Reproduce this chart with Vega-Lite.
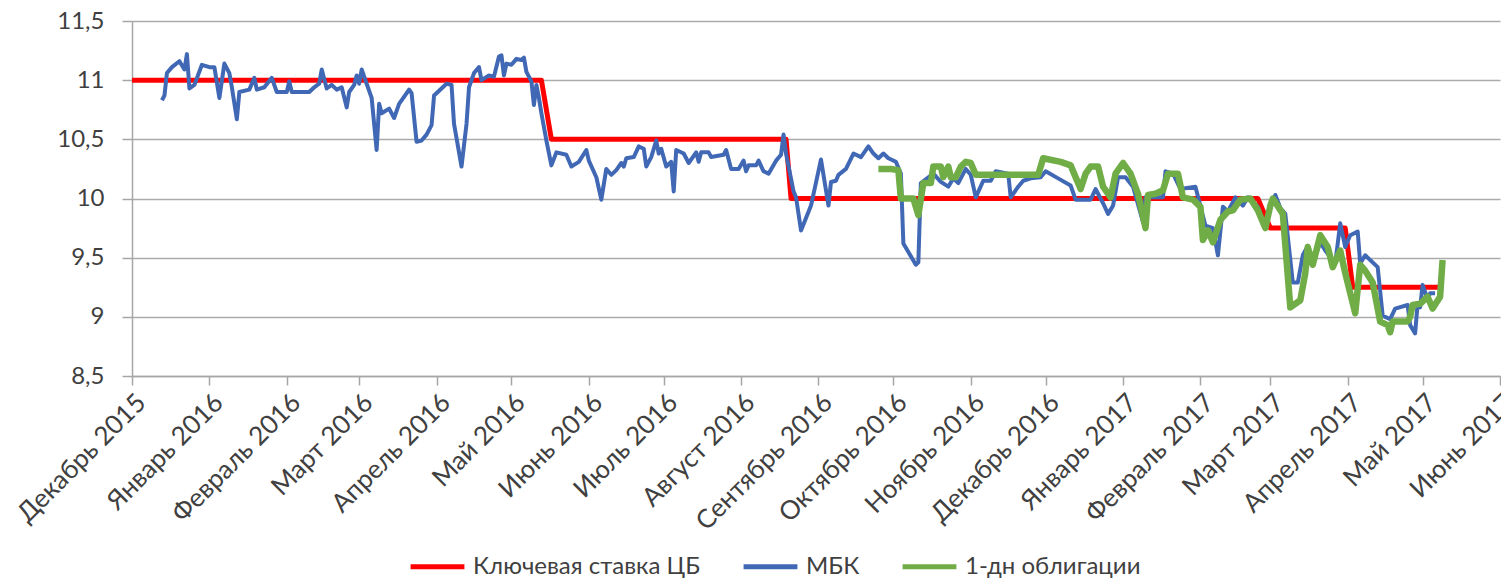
{
"$schema": "https://vega.github.io/schema/vega-lite/v6.json",
"width": 1368, "height": 355,
"autosize": {"type": "none"},
"padding": {"left": 132, "top": 21, "right": 1, "bottom": 203},
"background": "white",
"config": {"font": "Lato", "view": {"stroke": null}},
"datasets": {
"key": [
{"date":"2015-12-01","value":11},{"date":"2016-05-13","value":11},{"date":"2016-05-17","value":10.5},{"date":"2016-08-19","value":10.5},{"date":"2016-08-21","value":10},{"date":"2017-02-24","value":10},{"date":"2017-03-01","value":9.75},{"date":"2017-03-31","value":9.75},{"date":"2017-04-03","value":9.25},{"date":"2017-05-09","value":9.25}
],
"mbk": [
{"date":"2015-12-13","value":10.83},{"date":"2015-12-14","value":10.87},{"date":"2015-12-15","value":11.06},{"date":"2015-12-17","value":11.11},{"date":"2015-12-20","value":11.16},{"date":"2015-12-22","value":11.09},{"date":"2015-12-23","value":11.22},{"date":"2015-12-24","value":10.93},{"date":"2015-12-26","value":10.96},{"date":"2015-12-29","value":11.13},
{"date":"2016-01-01","value":11.11},{"date":"2016-01-03","value":11.11},{"date":"2016-01-05","value":10.85},{"date":"2016-01-07","value":11.14},{"date":"2016-01-09","value":11.06},{"date":"2016-01-10","value":10.94},{"date":"2016-01-12","value":10.67},{"date":"2016-01-13","value":10.9},{"date":"2016-01-17","value":10.92},{"date":"2016-01-19","value":11.02},{"date":"2016-01-20","value":10.92},{"date":"2016-01-23","value":10.94},{"date":"2016-01-26","value":11.02},{"date":"2016-01-28","value":10.9},
{"date":"2016-02-01","value":10.9},{"date":"2016-02-02","value":10.99},{"date":"2016-02-03","value":10.9},{"date":"2016-02-10","value":10.9},{"date":"2016-02-12","value":10.94},{"date":"2016-02-14","value":10.97},{"date":"2016-02-15","value":11.09},{"date":"2016-02-17","value":10.93},{"date":"2016-02-19","value":10.96},{"date":"2016-02-21","value":10.92},{"date":"2016-02-23","value":10.94},{"date":"2016-02-25","value":10.77},{"date":"2016-02-26","value":10.9},{"date":"2016-02-28","value":10.96},{"date":"2016-02-29","value":11.04},
{"date":"2016-03-01","value":10.97},{"date":"2016-03-02","value":11.09},{"date":"2016-03-04","value":10.97},{"date":"2016-03-06","value":10.85},{"date":"2016-03-08","value":10.41},{"date":"2016-03-09","value":10.8},{"date":"2016-03-10","value":10.72},{"date":"2016-03-13","value":10.76},{"date":"2016-03-15","value":10.68},{"date":"2016-03-17","value":10.8},{"date":"2016-03-21","value":10.92},{"date":"2016-03-22","value":10.89},{"date":"2016-03-24","value":10.48},{"date":"2016-03-26","value":10.49},{"date":"2016-03-28","value":10.54},{"date":"2016-03-30","value":10.62},{"date":"2016-03-31","value":10.87},
{"date":"2016-04-05","value":10.97},{"date":"2016-04-07","value":10.96},{"date":"2016-04-08","value":10.63},{"date":"2016-04-11","value":10.27},{"date":"2016-04-13","value":10.63},{"date":"2016-04-14","value":10.94},{"date":"2016-04-16","value":11.06},{"date":"2016-04-18","value":11.11},{"date":"2016-04-19","value":11.0},{"date":"2016-04-22","value":11.04},{"date":"2016-04-24","value":11.03},{"date":"2016-04-26","value":11.2},{"date":"2016-04-27","value":11.21},{"date":"2016-04-28","value":11.04},{"date":"2016-04-29","value":11.14},
{"date":"2016-05-01","value":11.13},{"date":"2016-05-03","value":11.18},{"date":"2016-05-05","value":11.17},{"date":"2016-05-06","value":11.19},{"date":"2016-05-07","value":11.07},{"date":"2016-05-09","value":10.99},{"date":"2016-05-10","value":10.79},{"date":"2016-05-11","value":10.96},{"date":"2016-05-12","value":10.85},{"date":"2016-05-13","value":10.72},{"date":"2016-05-15","value":10.49},{"date":"2016-05-17","value":10.28},{"date":"2016-05-19","value":10.39},{"date":"2016-05-23","value":10.37},{"date":"2016-05-25","value":10.27},{"date":"2016-05-28","value":10.31},{"date":"2016-05-31","value":10.41},
{"date":"2016-06-01","value":10.32},{"date":"2016-06-04","value":10.18},{"date":"2016-06-06","value":9.99},{"date":"2016-06-08","value":10.25},{"date":"2016-06-10","value":10.2},{"date":"2016-06-12","value":10.24},{"date":"2016-06-14","value":10.3},{"date":"2016-06-15","value":10.27},{"date":"2016-06-16","value":10.34},{"date":"2016-06-19","value":10.35},{"date":"2016-06-21","value":10.44},{"date":"2016-06-23","value":10.42},{"date":"2016-06-24","value":10.27},{"date":"2016-06-26","value":10.35},{"date":"2016-06-28","value":10.49},{"date":"2016-06-29","value":10.38},{"date":"2016-06-30","value":10.42},
{"date":"2016-07-02","value":10.27},{"date":"2016-07-04","value":10.31},{"date":"2016-07-05","value":10.06},{"date":"2016-07-06","value":10.41},{"date":"2016-07-09","value":10.38},{"date":"2016-07-11","value":10.3},{"date":"2016-07-14","value":10.39},{"date":"2016-07-15","value":10.31},{"date":"2016-07-16","value":10.39},{"date":"2016-07-19","value":10.39},{"date":"2016-07-20","value":10.35},{"date":"2016-07-25","value":10.37},{"date":"2016-07-26","value":10.41},{"date":"2016-07-28","value":10.25},{"date":"2016-07-31","value":10.25},
{"date":"2016-08-02","value":10.32},{"date":"2016-08-03","value":10.23},{"date":"2016-08-04","value":10.28},{"date":"2016-08-07","value":10.28},{"date":"2016-08-08","value":10.32},{"date":"2016-08-10","value":10.23},{"date":"2016-08-12","value":10.21},{"date":"2016-08-15","value":10.32},{"date":"2016-08-17","value":10.37},{"date":"2016-08-18","value":10.54},{"date":"2016-08-19","value":10.38},{"date":"2016-08-22","value":10.06},{"date":"2016-08-23","value":10.01},{"date":"2016-08-25","value":9.73},{"date":"2016-08-29","value":9.94},
{"date":"2016-09-02","value":10.33},{"date":"2016-09-05","value":9.94},{"date":"2016-09-06","value":10.14},{"date":"2016-09-08","value":10.15},{"date":"2016-09-09","value":10.2},{"date":"2016-09-12","value":10.25},{"date":"2016-09-15","value":10.38},{"date":"2016-09-18","value":10.35},{"date":"2016-09-21","value":10.44},{"date":"2016-09-23","value":10.38},{"date":"2016-09-25","value":10.34},{"date":"2016-09-27","value":10.38},{"date":"2016-09-29","value":10.34},
{"date":"2016-10-02","value":10.31},{"date":"2016-10-04","value":10.21},{"date":"2016-10-05","value":9.62},{"date":"2016-10-10","value":9.44},{"date":"2016-10-11","value":9.46},{"date":"2016-10-12","value":10.13},{"date":"2016-10-17","value":10.21},{"date":"2016-10-20","value":10.14},{"date":"2016-10-23","value":10.1},{"date":"2016-10-25","value":10.17},{"date":"2016-10-27","value":10.13},{"date":"2016-10-30","value":10.25},
{"date":"2016-11-01","value":10.2},{"date":"2016-11-03","value":10.01},{"date":"2016-11-06","value":10.15},{"date":"2016-11-09","value":10.15},{"date":"2016-11-11","value":10.23},{"date":"2016-11-16","value":10.21},{"date":"2016-11-17","value":10.01},{"date":"2016-11-20","value":10.1},{"date":"2016-11-22","value":10.15},{"date":"2016-11-25","value":10.17},{"date":"2016-11-29","value":10.18},
{"date":"2016-12-01","value":10.23},{"date":"2016-12-06","value":10.17},{"date":"2016-12-11","value":10.11},{"date":"2016-12-13","value":9.99},{"date":"2016-12-15","value":9.99},{"date":"2016-12-19","value":9.99},{"date":"2016-12-21","value":10.08},{"date":"2016-12-24","value":9.96},{"date":"2016-12-26","value":9.87},{"date":"2016-12-28","value":9.94},{"date":"2016-12-30","value":10.18},
{"date":"2017-01-02","value":10.18},{"date":"2017-01-05","value":10.1},{"date":"2017-01-09","value":9.8},{"date":"2017-01-10","value":10.01},{"date":"2017-01-14","value":10.01},{"date":"2017-01-17","value":10.01},{"date":"2017-01-18","value":10.23},{"date":"2017-01-21","value":10.21},{"date":"2017-01-24","value":10.08},{"date":"2017-01-30","value":10.1},
{"date":"2017-02-03","value":9.77},{"date":"2017-02-06","value":9.75},{"date":"2017-02-08","value":9.52},{"date":"2017-02-10","value":9.93},{"date":"2017-02-12","value":9.89},{"date":"2017-02-15","value":10.01},{"date":"2017-02-18","value":9.94},{"date":"2017-02-20","value":10.01},{"date":"2017-02-24","value":9.93},{"date":"2017-02-27","value":9.75},
{"date":"2017-03-01","value":9.93},{"date":"2017-03-03","value":10.03},{"date":"2017-03-05","value":9.92},{"date":"2017-03-07","value":9.87},{"date":"2017-03-10","value":9.29},{"date":"2017-03-12","value":9.29},{"date":"2017-03-14","value":9.52},{"date":"2017-03-16","value":9.6},{"date":"2017-03-18","value":9.45},{"date":"2017-03-21","value":9.63},{"date":"2017-03-23","value":9.56},{"date":"2017-03-27","value":9.45},{"date":"2017-03-29","value":9.79},{"date":"2017-03-31","value":9.59},
{"date":"2017-04-02","value":9.69},{"date":"2017-04-05","value":9.72},{"date":"2017-04-06","value":9.45},{"date":"2017-04-08","value":9.52},{"date":"2017-04-13","value":9.42},{"date":"2017-04-15","value":9.01},{"date":"2017-04-18","value":8.98},{"date":"2017-04-20","value":9.07},{"date":"2017-04-25","value":9.1},{"date":"2017-04-26","value":8.93},{"date":"2017-04-28","value":8.86},{"date":"2017-04-29","value":9.11},{"date":"2017-04-30","value":9.08},
{"date":"2017-05-01","value":9.27},{"date":"2017-05-03","value":9.15},{"date":"2017-05-04","value":9.2},{"date":"2017-05-06","value":9.2}
],
"bonds": [
{"date":"2016-09-25","value":10.25},{"date":"2016-09-30","value":10.25},{"date":"2016-10-03","value":10.24},{"date":"2016-10-04","value":10.0},{"date":"2016-10-09","value":10.0},{"date":"2016-10-11","value":9.86},{"date":"2016-10-13","value":10.13},{"date":"2016-10-16","value":10.13},{"date":"2016-10-17","value":10.27},{"date":"2016-10-20","value":10.27},{"date":"2016-10-21","value":10.18},{"date":"2016-10-23","value":10.27},{"date":"2016-10-24","value":10.18},{"date":"2016-10-26","value":10.18},{"date":"2016-10-28","value":10.27},{"date":"2016-10-30","value":10.31},
{"date":"2016-11-01","value":10.3},{"date":"2016-11-03","value":10.2},{"date":"2016-11-28","value":10.2},{"date":"2016-11-30","value":10.34},
{"date":"2016-12-07","value":10.31},{"date":"2016-12-11","value":10.28},{"date":"2016-12-15","value":10.08},{"date":"2016-12-17","value":10.21},{"date":"2016-12-19","value":10.27},{"date":"2016-12-22","value":10.27},{"date":"2016-12-24","value":10.1},{"date":"2016-12-27","value":10.01},{"date":"2016-12-29","value":10.21},
{"date":"2017-01-01","value":10.3},{"date":"2017-01-04","value":10.21},{"date":"2017-01-07","value":10.04},{"date":"2017-01-10","value":9.75},{"date":"2017-01-11","value":10.03},{"date":"2017-01-14","value":10.04},{"date":"2017-01-17","value":10.07},{"date":"2017-01-19","value":10.21},{"date":"2017-01-23","value":10.21},{"date":"2017-01-25","value":10.01},{"date":"2017-01-29","value":9.99},
{"date":"2017-02-01","value":9.93},{"date":"2017-02-02","value":9.65},{"date":"2017-02-04","value":9.73},{"date":"2017-02-06","value":9.63},{"date":"2017-02-09","value":9.82},{"date":"2017-02-12","value":9.89},{"date":"2017-02-14","value":9.9},{"date":"2017-02-17","value":9.99},{"date":"2017-02-21","value":10.0},{"date":"2017-02-24","value":9.9},{"date":"2017-02-27","value":9.75},
{"date":"2017-03-01","value":9.94},{"date":"2017-03-02","value":10.0},{"date":"2017-03-06","value":9.87},{"date":"2017-03-09","value":9.08},{"date":"2017-03-13","value":9.14},{"date":"2017-03-15","value":9.37},{"date":"2017-03-16","value":9.59},{"date":"2017-03-18","value":9.44},{"date":"2017-03-21","value":9.69},{"date":"2017-03-24","value":9.59},{"date":"2017-03-26","value":9.42},{"date":"2017-03-29","value":9.56},{"date":"2017-03-31","value":9.37},
{"date":"2017-04-04","value":9.03},{"date":"2017-04-06","value":9.44},{"date":"2017-04-08","value":9.39},{"date":"2017-04-11","value":9.29},{"date":"2017-04-14","value":8.96},{"date":"2017-04-17","value":8.93},{"date":"2017-04-18","value":8.87},{"date":"2017-04-19","value":8.96},{"date":"2017-04-25","value":8.96},{"date":"2017-04-26","value":9.0},{"date":"2017-04-27","value":9.1},{"date":"2017-04-30","value":9.11},
{"date":"2017-05-03","value":9.17},{"date":"2017-05-05","value":9.07},{"date":"2017-05-08","value":9.17},{"date":"2017-05-09","value":9.48}
]
},
"encoding": {
"x": {"field": "date", "type": "temporal",
 "scale": {"domain": [{"year": 2015, "month": 12, "date": 1}, {"year": 2017, "month": 6, "date": 1}]},
 "axis": {"title": null, "grid": false,
  "values": [{"year":2015,"month":12,"date":1},{"year":2016,"month":1,"date":1},{"year":2016,"month":2,"date":1},{"year":2016,"month":3,"date":1},{"year":2016,"month":4,"date":1},{"year":2016,"month":5,"date":1},{"year":2016,"month":6,"date":1},{"year":2016,"month":7,"date":1},{"year":2016,"month":8,"date":1},{"year":2016,"month":9,"date":1},{"year":2016,"month":10,"date":1},{"year":2016,"month":11,"date":1},{"year":2016,"month":12,"date":1},{"year":2017,"month":1,"date":1},{"year":2017,"month":2,"date":1},{"year":2017,"month":3,"date":1},{"year":2017,"month":4,"date":1},{"year":2017,"month":5,"date":1},{"year":2017,"month":6,"date":1}],
  "labelExpr": "['Январь','Февраль','Март','Апрель','Май','Июнь','Июль','Август','Сентябрь','Октябрь','Ноябрь','Декабрь'][month(datum.value)] + ' ' + year(datum.value)",
  "labelAngle": -45, "labelFontSize": 26, "labelColor": "#404040", "labelFlush": false, "labelOverlap": false, "labelBound": false, "labelLimit": 400,
  "labelPadding": 4, "tickSize": 9, "tickColor": "#a6a6a6", "tickWidth": 1.5, "domainColor": "#a6a6a6", "domainWidth": 1.5}},
"y": {"field": "value", "type": "quantitative",
 "scale": {"domain": [8.5, 11.5], "nice": false, "zero": false},
 "axis": {"title": null, "values": [8.5, 9, 9.5, 10, 10.5, 11, 11.5],
  "labelExpr": "replace(toString(datum.value), '.', ',')",
  "labelFontSize": 24, "labelColor": "#404040", "labelPadding": 18,
  "tickSize": 10, "tickColor": "#a6a6a6", "tickWidth": 1.5, "domainColor": "#a6a6a6", "domainWidth": 1.5,
  "grid": true, "gridColor": "#ababab", "gridWidth": 1.5}}
},
"layer": [
{"data": {"name": "key", "format": {"parse": {"date": "date:'%Y-%m-%d'"}}},
 "mark": {"type": "line", "strokeWidth": 5, "strokeJoin": "round"},
 "encoding": {"color": {"datum": "Ключевая ставка ЦБ",
   "scale": {"domain": ["Ключевая ставка ЦБ", "МБК", "1-дн облигации"], "range": ["#ff0000", "#4068b4", "#70ad47"]},
   "legend": {"orient": "none", "legendX": 276, "legendY": 516, "direction": "horizontal", "title": null,
     "labelFontSize": 24, "labelColor": "#404040", "labelLimit": 500, "symbolType": "stroke", "symbolSize": 2900, "symbolStrokeWidth": 5,
     "labelOffset": 6, "columnPadding": 32}}}},
{"data": {"name": "mbk", "format": {"parse": {"date": "date:'%Y-%m-%d'"}}},
 "mark": {"type": "line", "strokeWidth": 4, "strokeJoin": "round"},
 "encoding": {"color": {"datum": "МБК"}}},
{"data": {"name": "bonds", "format": {"parse": {"date": "date:'%Y-%m-%d'"}}},
 "mark": {"type": "line", "strokeWidth": 6.5, "strokeJoin": "round"},
 "encoding": {"color": {"datum": "1-дн облигации"}}}
]
}
